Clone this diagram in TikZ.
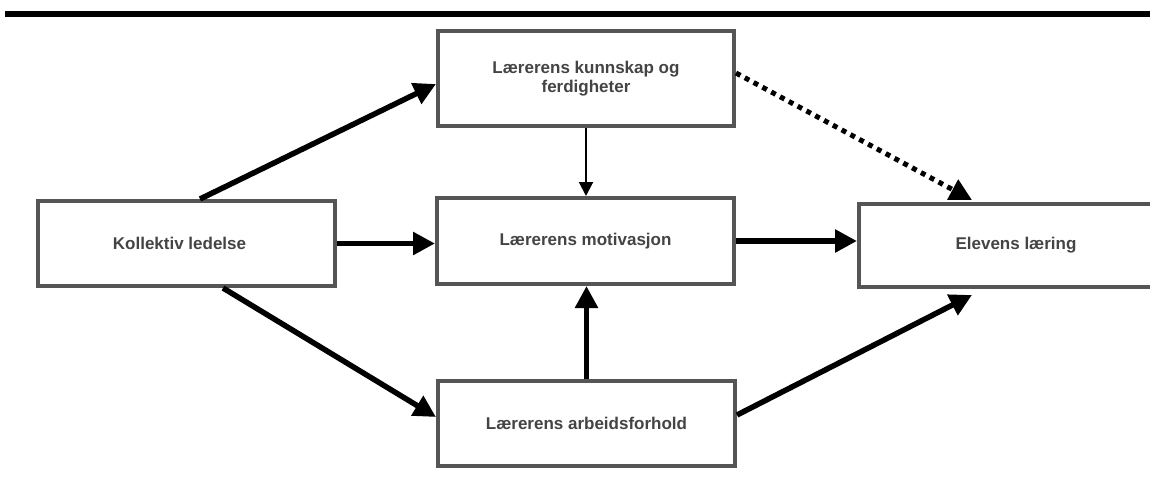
\documentclass[tikz,border=0pt]{standalone}
\usepackage{fontspec}
\setmainfont{Liberation Sans}
\usetikzlibrary{arrows.meta}
\definecolor{boxgray}{HTML}{555555}
\definecolor{txtgray}{HTML}{444444}
\tikzset{
  box/.style={draw=boxgray, line width=4pt, fill=white, rectangle, inner sep=0pt,
    text=txtgray, align=center, font=\fontsize{17}{19}\selectfont\bfseries},
  thickarrow/.style={draw=black, line width=5.5pt, -{Triangle[length=22pt,width=22pt]}},
  thinarrow/.style={draw=black, line width=2pt, -{Triangle[length=14pt,width=14pt]}},
  dotarrow/.style={draw=black, line width=5pt, dash pattern=on 5pt off 5pt, -{Triangle[length=22pt,width=22pt]}}
}
\begin{document}
\begin{tikzpicture}[x=1pt,y=-1pt]
\useasboundingbox (0,0) rectangle (1150,491);
\clip (0,0) rectangle (1150,491);
\fill[white] (0,0) rectangle (1150,491);
\draw[line width=6pt, black] (5,14) -- (1152,14);

\node[box, minimum width=296pt, minimum height=95pt] (k) at (586,78.5) {Lærerens kunnskap og\\ferdigheter};
\node[box, minimum width=297pt, minimum height=85pt] (kol) at (186.5,243.5) {Kollektiv ledelse\kern14pt};
\node[box, minimum width=297pt, minimum height=86pt] (mot) at (585.5,241) {Lærerens motivasjon};
\node[box, minimum width=297pt, minimum height=85pt] (ar) at (586.5,423.5) {Lærerens arbeidsforhold};
\node[box, minimum width=314pt, minimum height=83pt] (el) at (1016,245.5) {Elevens læring};

\draw[thickarrow] ([xshift=13.5pt]kol.north) -- ([yshift=-5.5pt]k.west);
\draw[thickarrow] (kol.east) -- (kol.east -| mot.west);
\draw[thickarrow] ([xshift=36.5pt]kol.south) -- ([yshift=6.5pt]ar.west);
\draw[thinarrow] (k.south) -- (k.south |- mot.north);
\draw[thickarrow] (ar.north) -- (ar.north |- mot.south);
\draw[thickarrow] (mot.east) -- (mot.east -| el.west);
\draw[thickarrow] ([yshift=8.5pt]ar.east) -- ([xshift=-44pt,yshift=-6pt]el.south);
\draw[dotarrow] ([yshift=5.5pt]k.east) -- ([xshift=-44pt,yshift=2pt]el.north);
\end{tikzpicture}
\end{document}
